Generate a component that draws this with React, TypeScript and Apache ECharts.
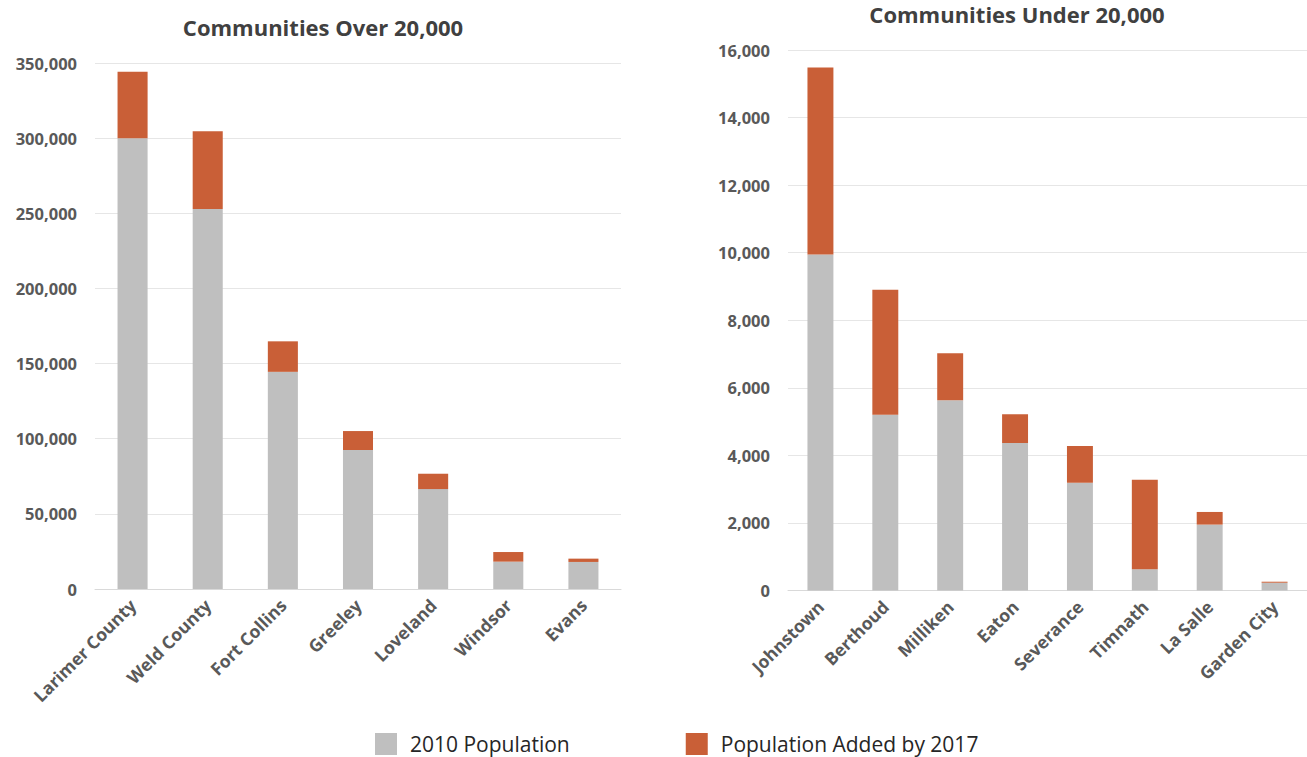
import React, { useEffect, useRef } from "react";
import * as echarts from "echarts";

const bigCities = ["Larimer County", "Weld County", "Fort Collins", "Greeley", "Loveland", "Windsor", "Evans"];
const bigPop2010 = [300000, 252800, 144500, 92500, 66500, 18200, 18000];
const bigAdded = [44200, 51800, 20300, 12600, 10200, 6400, 2200];

const smallCities = ["Johnstown", "Berthoud", "Milliken", "Eaton", "Severance", "Timnath", "La Salle", "Garden City"];
const smallPop2010 = [9950, 5200, 5630, 4370, 3190, 630, 1950, 230];
const smallAdded = [5530, 3700, 1390, 850, 1090, 2650, 375, 30];

const seriesNames = ["2010 Population", "Population Added by 2017"];
const titles = ["Communities Over 20,000", "Communities Under 20,000"];

const GREY = "#BFBFBF";
const ORANGE = "#C95F37";
const FONT = "'Open Sans', 'DejaVu Sans', sans-serif";

export default function App() {
  const ref = useRef<HTMLDivElement>(null);
  useEffect(() => {
    if (!ref.current) return;
    const chart = echarts.init(ref.current, null, { renderer: "svg" });
    const fmt = (v: number) => v.toLocaleString("en-US");
    const xAxisCommon = {
      type: "category" as const,
      axisLine: { lineStyle: { color: "#D9D9D9" } },
      axisTick: { show: false },
      axisLabel: {
        rotate: 45,
        interval: 0,
        margin: 13,
        fontSize: 17.5,
        fontWeight: "bold" as const,
        color: "#595959",
        fontFamily: FONT,
      },
    };
    const yAxisCommon = {
      type: "value" as const,
      min: 0,
      axisLine: { show: false },
      axisTick: { show: false },
      splitLine: { lineStyle: { color: "#E6E6E6", width: 1 } },
      axisLabel: {
        formatter: fmt,
        fontSize: 16.5,
        fontWeight: "bold" as const,
        color: "#595959",
        fontFamily: FONT,
        margin: 18,
      },
    };
    chart.setOption({
      animation: false,
      backgroundColor: "#FFFFFF",
      title: [
        {
          text: titles[0],
          left: 318,
          top: 11,
          textAlign: "center",
          textStyle: { fontSize: 22, fontWeight: "bold", color: "#404040", fontFamily: FONT },
        },
        {
          text: titles[1],
          left: 1012,
          top: -2,
          textAlign: "center",
          textStyle: { fontSize: 22, fontWeight: "bold", color: "#404040", fontFamily: FONT },
        },
      ],
      legend: {
        data: seriesNames,
        left: 370,
        top: 728,
        itemWidth: 22,
        itemHeight: 22,
        itemGap: 116,
        icon: "rect",
        textStyle: { fontSize: 21, color: "#262626", fontFamily: FONT, padding: [0, 0, 0, 8] },
      },
      grid: [
        { left: 95, top: 63, width: 526, height: 526, containLabel: false },
        { left: 788, top: 50, width: 519, height: 540.5, containLabel: false },
      ],
      xAxis: [
        { ...xAxisCommon, gridIndex: 0, data: bigCities },
        { ...xAxisCommon, gridIndex: 1, data: smallCities },
      ],
      yAxis: [
        { ...yAxisCommon, gridIndex: 0, max: 350000, interval: 50000 },
        { ...yAxisCommon, gridIndex: 1, max: 16000, interval: 2000 },
      ],
      series: [
        {
          name: seriesNames[0], type: "bar", stack: "a", xAxisIndex: 0, yAxisIndex: 0,
          data: bigPop2010, barWidth: "40%", itemStyle: { color: GREY },
        },
        {
          name: seriesNames[1], type: "bar", stack: "a", xAxisIndex: 0, yAxisIndex: 0,
          data: bigAdded, barWidth: "40%", itemStyle: { color: ORANGE },
        },
        {
          name: seriesNames[0], type: "bar", stack: "b", xAxisIndex: 1, yAxisIndex: 1,
          data: smallPop2010, barWidth: "40%", itemStyle: { color: GREY },
        },
        {
          name: seriesNames[1], type: "bar", stack: "b", xAxisIndex: 1, yAxisIndex: 1,
          data: smallAdded, barWidth: "40%", itemStyle: { color: ORANGE },
        },
      ],
    });
    return () => chart.dispose();
  }, []);
  return (
    <div
      ref={ref}
      style={{ position: "fixed", left: 0, top: 0, width: 1307, height: 757, background: "#fff" }}
    />
  );
}
